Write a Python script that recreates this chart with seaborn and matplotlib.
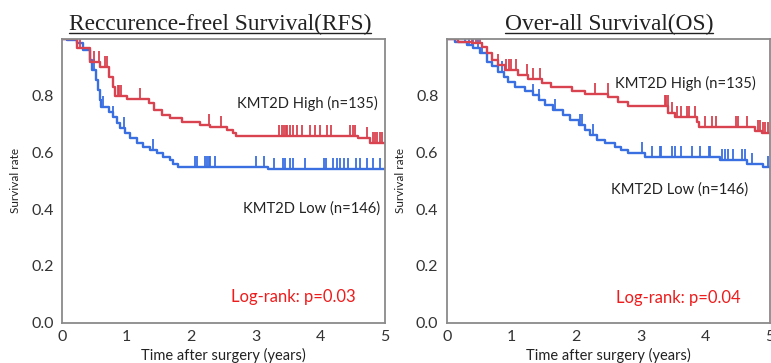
import numpy as np
import pandas as pd
import matplotlib
matplotlib.use("Agg")
import matplotlib.pyplot as plt
import seaborn as sns
from matplotlib.lines import Line2D

# --- datos (tiempo en años, supervivencia) ---
# RFS - KMT2D High
rfs_high_t = [0, 0.23, 0.43, 0.59, 0.72, 0.79, 0.82, 1.0, 1.35, 1.42, 1.55, 1.67, 1.85, 2.14,
              2.29, 2.55, 2.65, 2.70, 4.58, 4.77]
rfs_high_s = [1.0, 0.97, 0.92, 0.90, 0.867, 0.832, 0.80, 0.79, 0.773, 0.75, 0.732, 0.72, 0.708,
              0.697, 0.689, 0.679, 0.668, 0.658, 0.65, 0.634]
rfs_high_cens = [0.28, 0.44, 0.50, 0.57, 0.67, 0.69, 0.86, 0.89, 0.92, 1.20, 2.28, 2.46, 3.36, 3.40,
                 3.43, 3.46, 3.49, 3.53, 3.57, 3.63, 3.71, 3.84, 3.92, 4.0, 4.1, 4.16, 4.46, 4.50,
                 4.54, 4.72, 4.81, 4.84, 4.88, 4.92, 4.96]

# RFS - KMT2D Low
rfs_low_t = [0, 0.07, 0.23, 0.33, 0.43, 0.47, 0.52, 0.56, 0.59, 0.61, 0.72, 0.79, 0.85, 0.90, 0.97,
             1.05, 1.16, 1.26, 1.36, 1.47, 1.57, 1.67, 1.72, 1.80, 3.19]
rfs_low_s = [1.0, 0.995, 0.985, 0.961, 0.926, 0.89, 0.855, 0.82, 0.785, 0.761, 0.744, 0.726, 0.703,
             0.685, 0.668, 0.65, 0.634, 0.62, 0.609, 0.597, 0.585, 0.573, 0.561, 0.55, 0.541]
rfs_low_cens = [0.49, 0.64, 0.79, 0.96, 1.41, 2.06, 2.09, 2.21, 2.24, 2.27, 2.29, 2.37, 3.01, 3.12,
                3.28, 3.42, 3.45, 3.53, 3.57, 3.76, 4.05, 4.09, 4.20, 4.26, 4.30, 4.36, 4.43, 4.55,
                4.61, 4.72, 4.82, 4.92]

# OS - KMT2D High
os_high_t = [0, 0.18, 0.39, 0.54, 0.62, 0.70, 0.80, 0.90, 1.11, 1.26, 1.47, 1.62, 1.93, 2.14, 2.50,
             2.65, 2.81, 3.43, 3.53, 3.87, 3.90, 4.77, 4.87]
os_high_s = [1.0, 0.99, 0.985, 0.973, 0.95, 0.926, 0.908, 0.89, 0.873, 0.858, 0.844, 0.83, 0.818,
             0.806, 0.794, 0.779, 0.764, 0.738, 0.724, 0.709, 0.689, 0.677, 0.668]
os_high_cens = [0.39, 0.45, 0.52, 0.80, 0.91, 0.96, 0.99, 1.07, 1.24, 1.34, 1.44, 2.29, 2.49, 3.37,
                3.39, 3.42, 3.49, 3.56, 3.63, 3.71, 3.75, 3.84, 3.99, 4.11, 4.16, 4.48, 4.51, 4.64,
                4.82, 4.85, 4.89, 4.93, 4.97]

# OS - KMT2D Low
os_low_t = [0, 0.13, 0.31, 0.41, 0.51, 0.62, 0.70, 0.80, 0.88, 0.95, 1.06, 1.21, 1.34, 1.42, 1.52,
            1.65, 1.80, 1.91, 2.04, 2.14, 2.22, 2.32, 2.45, 2.60, 2.70, 2.81, 3.07, 4.23, 4.64, 4.89]
os_low_s = [1.0, 0.99, 0.979, 0.967, 0.95, 0.92, 0.904, 0.885, 0.867, 0.85, 0.832, 0.818, 0.803,
            0.785, 0.768, 0.75, 0.732, 0.715, 0.697, 0.68, 0.662, 0.644, 0.633, 0.621, 0.609,
            0.597, 0.583, 0.574, 0.56, 0.548]
os_low_cens = [0.28, 0.34, 0.41, 0.48, 0.54, 0.85, 1.34, 1.42, 1.68, 2.06, 2.10, 2.27, 3.02, 3.17,
               3.30, 3.32, 3.48, 3.53, 3.63, 3.79, 3.92, 4.05, 4.07, 4.25, 4.30, 4.35, 4.43, 4.56,
               4.61, 4.72, 4.97]

titulos = ["Reccurence-freel Survival(RFS)", "Over-all Survival(OS)"]
etiquetas = ["KMT2D High (n=135)", "KMT2D Low (n=146)"]
p_valores = ["Log-rank: p=0.03", "Log-rank: p=0.04"]

ROJO = "#d9424f"
AZUL = "#3a6fe2"
GRIS = "#8a8a8a"
FUENTE = ["Lato", "DejaVu Sans"]

sns.set_style("white")
plt.rcParams["font.family"] = FUENTE

fig = plt.figure(figsize=(7.71, 3.63), dpi=100)
ax_rfs = fig.add_axes([0.0804, 0.111, 0.419, 0.7815])
ax_os = fig.add_axes([0.5794, 0.111, 0.4193, 0.7815])

# marcador de censura: trazo vertical hacia arriba
marca = matplotlib.markers.MarkerStyle([(0, 0), (0, 1)])


def curva_km(ax, t, s, cens, color):
    t = np.asarray(t + [5.0])
    s = np.asarray(s + [s[-1]])
    df = pd.DataFrame({"tiempo": t, "surv": s})
    sns.lineplot(data=df, x="tiempo", y="surv", ax=ax, color=color, lw=1.7,
                 drawstyle="steps-post", estimator=None, sort=False)
    cens = np.asarray(cens)
    idx = np.searchsorted(t, cens, side="right") - 1
    ax.plot(cens, s[idx], linestyle="none", marker=marca, markersize=16,
            markeredgewidth=1.3, color=color)


paneles = [
    (ax_rfs, rfs_high_t, rfs_high_s, rfs_high_cens, rfs_low_t, rfs_low_s, rfs_low_cens,
     [(4.89, 0.774), (4.92, 0.404), (4.54, 0.092)]),
    (ax_os, os_high_t, os_high_s, os_high_cens, os_low_t, os_low_s, os_low_cens,
     [(4.78, 0.844), (4.66, 0.468), (4.54, 0.088)]),
]

for i, (ax, ht, hs, hc, lt, ls, lc, pos) in enumerate(paneles):
    curva_km(ax, lt, ls, lc, AZUL)
    curva_km(ax, ht, hs, hc, ROJO)

    ax.set_xlim(0, 5)
    ax.set_ylim(0, 1.0)
    ax.set_xticks(range(6))
    ax.set_xticks(np.arange(0.5, 5, 1), minor=True)
    ax.set_yticks([0.0, 0.2, 0.4, 0.6, 0.8])
    ax.set_yticks([0.1, 0.3, 0.5, 0.7, 0.9], minor=True)
    ax.set_yticklabels(["0.0", "0.2", "0.4", "0.6", "0.8"])
    ax.tick_params(axis="both", which="major", length=4, width=1, color=GRIS,
                   labelsize=11.5, labelcolor="#333333", pad=2)
    ax.tick_params(axis="both", which="minor", length=2.5, width=0.8, color=GRIS)
    ax.tick_params(axis="x", pad=1)
    for sp in ax.spines.values():
        sp.set_color(GRIS)
        sp.set_linewidth(1.3)
        sp.set_visible(True)

    ax.set_xlabel("Time after surgery (years)", fontsize=10.5, color="#222222", labelpad=3)
    ax.set_ylabel("Survival rate", fontsize=8.5, color="#222222", labelpad=7)

    ax.text(pos[0][0], pos[0][1], etiquetas[0], ha="right", va="center",
            fontsize=10.6, color="#222222")
    ax.text(pos[1][0], pos[1][1], etiquetas[1], ha="right", va="center",
            fontsize=10.6, color="#222222")
    ax.text(pos[2][0], pos[2][1], p_valores[i], ha="right", va="center",
            fontsize=12, color="#ee1c1c")

# titulos subrayados
centros = [220 / 771, 609 / 771]
textos_titulo = []
for c, tt in zip(centros, titulos):
    textos_titulo.append(fig.text(c, 1 - 30 / 363, tt, ha="center", va="baseline",
                                  fontsize=16.8, family="Liberation Serif", color="#222222"))

fig.canvas.draw()
r = fig.canvas.get_renderer()
for txt in textos_titulo:
    bb = txt.get_window_extent(renderer=r).transformed(fig.transFigure.inverted())
    y_sub = 1 - 33 / 363
    fig.add_artist(Line2D([bb.x0, bb.x1], [y_sub, y_sub], transform=fig.transFigure,
                          color="#222222", lw=1.0))

fig.savefig("out.png", dpi=100)
